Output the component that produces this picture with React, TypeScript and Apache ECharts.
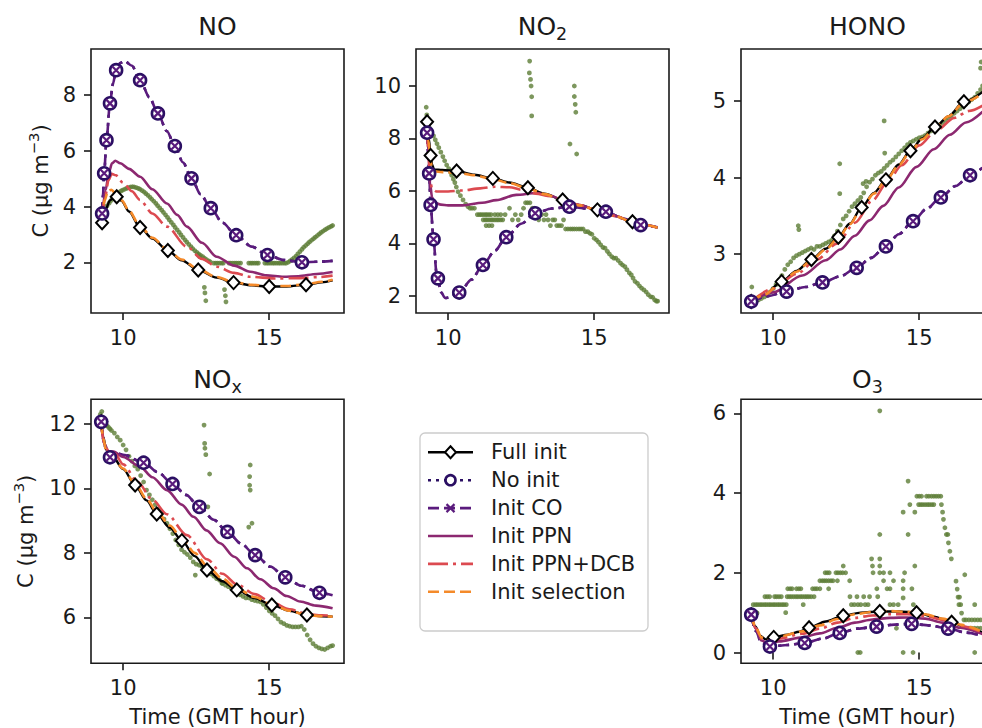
import React, { useEffect, useRef } from "react";
import * as echarts from "echarts";

// ---------------- data ----------------
const SCENARIOS = ["Full init", "No init", "Init CO", "Init PPN", "Init PPN+DCB", "Init selection"];
const X_TICKS = [10, 15];
const NO_TICKS = [2, 4, 6, 8];
const NO2_TICKS = [2, 4, 6, 8, 10];
const HONO_TICKS = [3, 4, 5];
const NOX_TICKS = [6, 8, 10, 12];
const O3_TICKS = [0, 2, 4, 6];

// [time, value, marker?]
const NO_full = [[9.28,3.42,1],[9.4,3.9,0],[9.55,4.22,0],[9.68,4.34,0],[9.78,4.35,1],[9.95,4.2,0],[10.2,3.82,0],[10.58,3.25,1],[11.0,2.85,0],[11.53,2.42,1],[12.0,2.07,0],[12.57,1.72,1],[13.2,1.45,0],[13.78,1.27,1],[14.4,1.17,0],[15.0,1.13,1],[15.6,1.13,0],[16.26,1.19,1],[16.8,1.28,0],[17.17,1.35,0]];
const NO_co = [[9.28,3.75,1],[9.31,4.4,0],[9.35,5.19,1],[9.43,6.38,1],[9.55,7.7,1],[9.65,8.4,0],[9.76,8.89,1],[9.9,9.15,0],[10.05,9.22,0],[10.3,9.05,0],[10.58,8.53,1],[10.9,7.92,0],[11.19,7.34,1],[11.5,6.7,0],[11.77,6.17,1],[12.05,5.58,0],[12.34,5.01,1],[12.65,4.44,0],[13.0,3.94,1],[13.4,3.42,0],[13.87,2.97,1],[14.4,2.56,0],[14.94,2.26,1],[15.5,2.08,0],[16.12,2.0,1],[16.7,2.02,0],[17.17,2.05,0]];
const NO_noinit = NO_co;
const NO_ppn = [[9.28,3.6,0],[9.4,4.6,0],[9.52,5.25,0],[9.62,5.55,0],[9.73,5.64,0],[9.9,5.55,0],[10.2,5.35,0],[10.58,5.07,0],[11.0,4.62,0],[11.5,4.11,0],[11.85,3.7,0],[12.18,3.28,0],[12.7,2.7,0],[13.2,2.2,0],[13.8,1.88,0],[14.35,1.66,0],[14.9,1.53,0],[15.49,1.48,0],[16.0,1.5,0],[16.63,1.58,0],[17.17,1.65,0]];
const NO_dcb = [[9.28,3.55,0],[9.38,4.3,0],[9.5,4.95,0],[9.61,5.17,0],[9.75,5.12,0],[10.0,4.85,0],[10.3,4.55,0],[10.58,4.23,0],[11.0,3.75,0],[11.5,3.28,0],[12.18,2.56,0],[12.7,2.12,0],[13.2,1.84,0],[13.8,1.62,0],[14.35,1.48,0],[15.2,1.42,0],[16.06,1.43,0],[16.7,1.47,0],[17.17,1.52,0]];
const NO_sel = [[9.28,3.5,0],[9.36,4.2,0],[9.48,4.55,0],[9.6,4.6,0],[9.75,4.45,0],[9.95,4.22,0],[10.2,3.85,0],[10.58,3.3,0],[11.0,2.88,0],[11.53,2.45,0],[12.0,2.1,0],[12.57,1.75,0],[13.2,1.47,0],[13.78,1.29,0],[14.4,1.19,0],[15.0,1.15,0],[15.6,1.15,0],[16.26,1.21,0],[16.8,1.3,0],[17.17,1.37,0]];
const NO_obs = [[9.25,3.62],[9.32,3.76],[9.38,3.9],[9.45,4.02],[9.52,4.12],[9.58,4.21],[9.65,4.3],[9.72,4.37],[9.78,4.44],[9.85,4.5],[9.92,4.55],[9.98,4.59],[10.05,4.62],[10.12,4.65],[10.18,4.68],[10.25,4.7],[10.32,4.71],[10.38,4.7],[10.45,4.68],[10.52,4.65],[10.58,4.62],[10.65,4.57],[10.72,4.52],[10.78,4.46],[10.85,4.4],[10.92,4.33],[10.98,4.26],[11.05,4.19],[11.12,4.11],[11.18,4.03],[11.25,3.95],[11.32,3.87],[11.38,3.79],[11.45,3.7],[11.52,3.61],[11.58,3.52],[11.65,3.43],[11.72,3.34],[11.78,3.25],[11.85,3.16],[11.92,3.07],[11.98,2.98],[12.05,2.89],[12.12,2.8],[12.18,2.72],[12.25,2.64],[12.32,2.56],[12.38,2.49],[12.45,2.42],[12.52,2.36],[12.58,2.3],[12.65,2.25],[12.72,2.2],[12.78,2.15],[12.85,2.1],[12.92,2.05],[12.98,2.02],[13.1,1.97],[13.17,1.97],[13.23,1.97],[13.3,1.97],[13.37,1.97],[13.43,1.97],[13.62,1.97],[13.68,1.97],[13.75,1.97],[13.82,1.97],[13.88,1.97],[13.95,1.97],[14.02,1.97],[14.3,1.97],[14.37,1.97],[14.43,1.97],[14.5,1.97],[14.57,1.97],[14.63,1.97],[14.85,1.97],[14.92,1.97],[14.98,1.97],[15.05,1.97],[15.12,1.97],[15.18,1.97],[15.25,1.97],[15.32,1.97],[15.38,1.97],[15.45,1.97],[15.52,1.97],[15.58,1.97],[15.65,2.0],[15.72,2.05],[15.78,2.1],[15.85,2.16],[15.92,2.22],[15.98,2.3],[16.05,2.38],[16.12,2.46],[16.18,2.54],[16.25,2.6],[16.32,2.67],[16.38,2.73],[16.45,2.79],[16.52,2.85],[16.58,2.9],[16.65,2.96],[16.72,3.02],[16.78,3.07],[16.85,3.12],[16.92,3.17],[16.98,3.21],[17.05,3.25],[17.12,3.29],[17.17,3.32],[12.78,1.1],[12.8,0.9],[12.83,0.62],[13.47,1.02],[13.5,0.8],[13.52,0.58],[12.55,2.28],[12.62,2.2]];

const NO2_full = [[9.28,8.64,1],[9.34,8.0,0],[9.4,7.35,1],[9.45,7.0,0],[9.52,6.82,0],[9.8,6.8,0],[10.29,6.76,1],[10.9,6.62,0],[11.53,6.48,1],[12.1,6.32,0],[12.73,6.12,1],[13.3,5.9,0],[13.92,5.66,1],[14.5,5.46,0],[15.11,5.28,1],[15.7,5.05,0],[16.31,4.83,1],[16.8,4.7,0],[17.17,4.6,0]];
const NO2_co = [[9.28,8.22,1],[9.32,7.4,0],[9.35,6.67,1],[9.4,5.47,1],[9.5,4.16,1],[9.6,2.9,0],[9.65,2.67,1],[9.75,2.15,0],[9.9,1.92,0],[10.05,1.95,0],[10.38,2.13,1],[10.8,2.62,0],[11.19,3.18,1],[11.6,3.72,0],[11.99,4.24,1],[12.5,4.75,0],[12.98,5.15,1],[13.55,5.33,0],[14.15,5.4,1],[14.8,5.33,0],[15.4,5.21,1],[16.0,4.95,0],[16.59,4.7,1],[17.17,4.62,0]];
const NO2_noinit = NO2_co;
const NO2_ppn = [[9.28,8.45,0],[9.33,7.4,0],[9.38,6.3,0],[9.45,5.75,0],[9.55,5.55,0],[9.75,5.48,0],[10.0,5.45,0],[10.5,5.45,0],[11.17,5.55,0],[11.65,5.65,0],[12.33,5.85,0],[13.01,5.92,0],[13.5,5.82,0],[13.92,5.66,0],[14.5,5.46,0],[15.11,5.27,0],[15.7,5.05,0],[16.31,4.82,0],[16.8,4.7,0],[17.17,4.6,0]];
const NO2_dcb = [[9.28,8.45,0],[9.33,7.4,0],[9.38,6.45,0],[9.45,6.08,0],[9.6,5.98,0],[10.0,5.98,0],[10.5,6.02,0],[11.1,6.1,0],[11.6,6.16,0],[12.1,6.14,0],[12.56,6.04,0],[13.0,5.9,0],[13.5,5.8,0],[13.92,5.66,0],[14.5,5.46,0],[15.11,5.27,0],[15.7,5.05,0],[16.31,4.82,0],[16.8,4.7,0],[17.17,4.6,0]];
const NO2_sel = [[9.28,8.6,0],[9.33,7.9,0],[9.39,7.2,0],[9.45,6.85,0],[9.52,6.75,0],[9.8,6.72,0],[10.29,6.7,0],[10.9,6.6,0],[11.53,6.45,0],[12.1,6.3,0],[12.73,6.1,0],[13.3,5.88,0],[13.92,5.65,0],[14.5,5.45,0],[15.11,5.27,0],[15.7,5.05,0],[16.31,4.82,0],[16.8,4.7,0],[17.17,4.6,0]];
const NO2_obs = [[9.25,9.19],[9.27,8.9],[9.3,8.6],[9.35,8.42],[9.42,8.26],[9.5,8.1],[9.56,7.95],[9.62,7.8],[9.68,7.65],[9.75,7.48],[9.82,7.31],[9.88,7.15],[9.95,6.99],[10.02,6.85],[10.08,6.72],[10.12,6.6],[10.18,6.45],[10.23,6.32],[10.28,6.15],[10.34,5.97],[10.42,5.82],[10.51,5.66],[10.6,5.5],[10.68,5.4],[10.75,5.34],[10.82,5.34],[10.9,5.34],[11.0,5.1],[11.07,5.1],[11.13,5.1],[11.2,5.1],[11.27,5.1],[11.33,5.1],[11.4,5.1],[11.47,5.1],[11.2,4.9],[11.27,4.9],[11.33,4.9],[11.4,4.9],[11.47,4.9],[11.53,4.9],[11.6,4.9],[11.67,4.9],[11.73,4.9],[11.8,4.9],[11.87,4.9],[11.3,4.68],[11.4,4.68],[11.5,4.68],[11.6,5.1],[11.7,5.1],[11.8,5.1],[11.95,5.1],[12.1,5.34],[12.2,4.9],[12.3,5.1],[12.4,4.9],[12.5,5.1],[12.58,5.34],[12.65,5.55],[12.72,5.55],[12.8,5.55],[12.88,5.34],[12.95,5.34],[13.02,5.1],[13.1,4.9],[13.2,5.1],[13.28,4.9],[13.35,5.1],[13.42,4.9],[13.5,4.68],[13.58,4.9],[13.65,4.9],[13.72,4.68],[13.8,4.68],[13.88,4.68],[13.95,4.9],[14.02,4.55],[14.1,4.55],[14.18,4.55],[14.25,4.55],[14.32,4.55],[14.4,4.55],[14.48,4.55],[14.55,4.55],[14.62,4.55],[14.7,4.45],[14.78,4.45],[14.85,4.39],[14.92,4.35],[15.0,4.2],[15.08,4.13],[15.15,4.05],[15.22,3.95],[15.3,3.85],[15.37,3.82],[15.45,3.7],[15.52,3.6],[15.6,3.5],[15.67,3.44],[15.74,3.44],[15.82,3.35],[15.9,3.25],[15.97,3.18],[16.05,3.12],[16.12,3.0],[16.2,2.88],[16.27,2.8],[16.33,2.68],[16.4,2.55],[16.48,2.48],[16.55,2.38],[16.62,2.3],[16.7,2.23],[16.78,2.15],[16.85,2.05],[16.93,1.97],[17.0,1.95],[17.07,1.85],[17.13,1.8],[17.17,1.8],[12.79,10.95],[12.78,10.5],[12.82,10.25],[12.84,10.0],[12.86,9.59],[12.86,8.86],[14.32,10.0],[14.32,9.6],[14.35,9.3],[14.37,9.0],[14.17,7.79],[14.4,7.41]];

const HONO_full = [[9.25,2.38,1],[9.7,2.47,0],[10.29,2.64,1],[10.8,2.78,0],[11.31,2.93,1],[11.8,3.07,0],[12.23,3.22,1],[12.63,3.4,0],[13.03,3.61,1],[13.45,3.8,0],[13.86,3.97,1],[14.3,4.17,0],[14.7,4.35,1],[15.1,4.51,0],[15.54,4.66,1],[16.0,4.8,0],[16.53,4.99,1],[17.17,5.12,0]];
const HONO_co = [[9.25,2.38,1],[9.8,2.45,0],[10.46,2.51,1],[11.1,2.57,0],[11.69,2.63,1],[12.3,2.71,0],[12.86,2.82,1],[13.35,2.95,0],[13.86,3.1,1],[14.3,3.26,0],[14.79,3.43,1],[15.25,3.59,0],[15.74,3.74,1],[16.25,3.89,0],[16.74,4.03,1],[17.17,4.13,0]];
const HONO_noinit = HONO_co;
const HONO_ppn = [[9.25,2.38,0],[10.0,2.5,0],[11.0,2.72,0],[11.8,2.92,0],[12.3,3.06,0],[12.8,3.24,0],[13.3,3.44,0],[13.77,3.63,0],[14.3,3.87,0],[14.91,4.14,0],[15.5,4.37,0],[16.05,4.56,0],[16.6,4.72,0],[17.17,4.86,0]];
const HONO_dcb = [[9.25,2.38,0],[10.0,2.55,0],[10.8,2.74,0],[11.5,2.93,0],[12.2,3.14,0],[12.8,3.41,0],[13.4,3.7,0],[13.9,3.93,0],[14.4,4.16,0],[15.0,4.42,0],[15.6,4.62,0],[16.2,4.78,0],[16.7,4.87,0],[17.17,4.94,0]];
const HONO_sel = [[9.25,2.38,0],[9.7,2.47,0],[10.29,2.63,0],[10.8,2.77,0],[11.31,2.92,0],[11.8,3.06,0],[12.23,3.21,0],[12.63,3.39,0],[13.03,3.6,0],[13.45,3.79,0],[13.86,3.96,0],[14.3,4.16,0],[14.7,4.34,0],[15.1,4.5,0],[15.54,4.65,0],[16.0,4.8,0],[16.53,4.98,0],[17.17,5.1,0]];
const HONO_obs = [[9.27,2.57],[9.3,2.4],[9.4,2.38],[9.5,2.4],[9.6,2.42],[9.7,2.44],[9.8,2.46],[9.9,2.5],[10.0,2.55],[10.1,2.6],[10.2,2.66],[10.3,2.72],[10.4,2.8],[10.5,2.86],[10.6,2.9],[10.7,2.95],[10.8,2.98],[10.9,3.0],[11.0,3.02],[11.1,3.04],[11.2,3.06],[11.3,3.08],[11.4,3.06],[11.5,3.1],[11.6,3.1],[11.7,3.12],[11.8,3.14],[11.9,3.16],[12.0,3.18],[12.1,3.24],[12.2,3.3],[12.3,3.38],[12.4,3.46],[12.5,3.5],[12.6,3.56],[12.7,3.62],[12.8,3.66],[12.9,3.7],[13.0,3.74],[13.1,3.8],[13.2,3.88],[13.3,3.94],[13.4,3.98],[13.5,4.03],[13.6,4.06],[13.7,4.08],[13.8,4.12],[13.9,4.16],[14.0,4.2],[14.1,4.23],[14.2,4.27],[14.3,4.31],[14.4,4.35],[14.5,4.39],[14.6,4.43],[14.7,4.46],[14.8,4.48],[14.9,4.5],[15.0,4.52],[15.1,4.53],[15.2,4.55],[15.3,4.58],[15.4,4.61],[15.5,4.63],[15.6,4.65],[15.7,4.69],[15.8,4.72],[15.9,4.75],[16.0,4.78],[16.1,4.81],[16.2,4.84],[16.3,4.87],[16.4,4.9],[16.5,4.93],[16.6,4.96],[16.7,4.99],[16.8,5.02],[16.9,5.05],[17.0,5.1],[17.1,5.15],[17.17,5.2],[10.86,3.37],[10.88,3.32],[12.28,4.18],[12.28,3.79],[13.08,3.92],[13.18,3.95],[13.8,4.74],[13.82,4.32],[17.12,5.51],[17.1,5.43]];

const NOX_full = [[9.25,12.07,1],[9.32,11.6,0],[9.42,11.2,0],[9.6,11.05,0],[10.0,10.6,0],[10.41,10.11,1],[10.8,9.63,0],[11.15,9.21,1],[11.6,8.78,0],[12.01,8.38,1],[12.45,7.9,0],[12.87,7.47,1],[13.4,7.12,0],[13.89,6.85,1],[14.5,6.6,0],[15.09,6.38,1],[15.7,6.2,0],[16.29,6.07,1],[16.8,6.03,0],[17.17,6.02,0]];
const NOX_co = [[9.25,12.07,1],[9.35,11.4,0],[9.45,11.05,0],[9.55,10.97,1],[9.7,11.1,0],[10.0,11.05,0],[10.7,10.8,1],[11.2,10.5,0],[11.69,10.14,1],[12.15,9.8,0],[12.61,9.43,1],[13.1,9.03,0],[13.57,8.65,1],[14.05,8.28,0],[14.52,7.93,1],[15.05,7.57,0],[15.55,7.24,1],[16.1,6.98,0],[16.72,6.76,1],[17.17,6.68,0]];
const NOX_noinit = NOX_co;
const NOX_ppn = [[9.25,12.0,0],[9.35,11.4,0],[9.5,11.15,0],[9.67,11.15,0],[10.0,10.98,0],[10.58,10.68,0],[11.0,10.35,0],[11.5,9.95,0],[12.0,9.5,0],[12.41,9.12,0],[12.85,8.7,0],[13.32,8.3,0],[13.8,7.88,0],[14.24,7.52,0],[14.7,7.18,0],[15.15,6.9,0],[15.6,6.66,0],[16.06,6.49,0],[16.6,6.36,0],[17.17,6.28,0]];
const NOX_dcb = [[9.25,12.0,0],[9.35,11.4,0],[9.5,11.15,0],[9.7,11.1,0],[10.0,10.75,0],[10.5,10.2,0],[11.0,9.65,0],[11.5,9.2,0],[12.18,8.55,0],[12.87,7.8,0],[13.4,7.35,0],[13.9,7.02,0],[14.5,6.72,0],[15.09,6.46,0],[15.7,6.25,0],[16.3,6.1,0],[16.8,6.06,0],[17.17,6.05,0]];
const NOX_sel = [[9.25,12.05,0],[9.32,11.55,0],[9.42,11.18,0],[9.6,11.05,0],[10.0,10.62,0],[10.41,10.15,0],[10.8,9.68,0],[11.15,9.28,0],[11.6,8.85,0],[12.01,8.45,0],[12.45,8.0,0],[12.87,7.6,0],[13.4,7.2,0],[13.89,6.9,0],[14.5,6.63,0],[15.09,6.4,0],[15.7,6.2,0],[16.29,6.07,0],[16.8,6.03,0],[17.17,6.02,0]];
const NOX_obs = [[9.22,12.3],[9.27,12.39],[9.3,12.2],[9.35,12.1],[9.4,12.0],[9.45,11.95],[9.5,11.9],[9.55,11.85],[9.6,11.8],[9.7,11.72],[9.8,11.6],[9.9,11.5],[10.0,11.35],[10.1,11.2],[10.2,11.0],[10.3,10.85],[10.4,10.7],[10.5,10.6],[10.6,10.4],[10.7,10.2],[10.8,9.95],[10.9,9.8],[11.0,9.65],[11.1,9.5],[11.2,9.35],[11.3,9.2],[11.4,9.05],[11.5,8.92],[11.6,8.75],[11.7,8.6],[11.8,8.4],[11.9,8.25],[12.0,8.1],[12.1,8.02],[12.2,7.95],[12.3,7.85],[12.4,7.72],[12.5,7.65],[12.6,7.62],[12.7,7.58],[12.8,7.55],[12.9,7.45],[13.0,7.35],[13.1,7.28],[13.2,7.2],[13.3,7.15],[13.4,7.05],[13.5,7.0],[13.6,6.95],[13.7,6.9],[13.8,6.82],[13.9,6.75],[14.0,6.7],[14.1,6.65],[14.2,6.6],[14.3,6.6],[14.4,6.55],[14.5,6.52],[14.6,6.5],[14.7,6.48],[14.8,6.4],[14.9,6.3],[15.0,6.2],[15.1,6.12],[15.2,6.05],[15.3,5.95],[15.4,5.85],[15.5,5.8],[15.6,5.75],[15.7,5.72],[15.8,5.7],[15.9,5.7],[16.0,5.7],[16.1,5.72],[16.2,5.62],[16.3,5.45],[16.4,5.3],[16.5,5.18],[16.6,5.1],[16.7,5.05],[16.8,5.02],[16.9,5.0],[17.0,5.05],[17.1,5.1],[17.17,5.12],[12.77,11.97],[12.79,11.4],[12.8,11.25],[12.83,11.05],[12.96,10.45],[12.9,9.43],[14.35,10.73],[14.33,10.37],[14.33,10.1],[14.35,9.95],[14.41,8.92],[14.3,8.8],[12.47,7.31],[13.38,7.06]];

const O3_full = [[9.25,0.95,1],[9.4,0.65,0],[9.55,0.42,0],[9.75,0.33,0],[10.02,0.38,1],[10.5,0.45,0],[10.9,0.52,0],[11.23,0.62,1],[11.8,0.78,0],[12.4,0.92,1],[13.0,1.0,0],[13.65,1.03,1],[14.3,1.03,0],[14.91,1.0,1],[15.5,0.9,0],[16.11,0.76,1],[16.7,0.6,0],[17.17,0.5,0]];
const O3_co = [[9.25,0.95,1],[9.4,0.55,0],[9.6,0.25,0],[9.89,0.15,1],[10.5,0.19,0],[11.08,0.24,1],[11.7,0.35,0],[12.28,0.49,1],[12.9,0.6,0],[13.54,0.65,1],[14.15,0.7,0],[14.74,0.72,1],[15.35,0.68,0],[15.99,0.6,1],[16.6,0.5,0],[17.17,0.42,0]];
const O3_noinit = O3_co;
const O3_ppn = [[9.25,0.95,0],[9.4,0.6,0],[9.6,0.3,0],[9.8,0.25,0],[10.2,0.28,0],[11.0,0.38,0],[11.6,0.48,0],[12.2,0.62,0],[12.8,0.75,0],[13.4,0.83,0],[14.0,0.87,0],[14.6,0.88,0],[15.2,0.85,0],[15.8,0.75,0],[16.4,0.62,0],[17.17,0.46,0]];
const O3_dcb = [[9.25,0.95,0],[9.4,0.62,0],[9.6,0.35,0],[9.8,0.3,0],[10.2,0.35,0],[11.0,0.47,0],[11.6,0.6,0],[12.2,0.75,0],[12.8,0.87,0],[13.4,0.93,0],[14.0,0.96,0],[14.6,0.96,0],[15.2,0.92,0],[15.8,0.82,0],[16.4,0.67,0],[17.17,0.5,0]];
const O3_sel = [[9.25,0.95,0],[9.4,0.64,0],[9.6,0.38,0],[9.8,0.33,0],[10.2,0.4,0],[11.0,0.53,0],[11.6,0.68,0],[12.2,0.84,0],[12.8,0.96,0],[13.4,1.02,0],[14.0,1.04,0],[14.6,1.02,0],[15.2,0.96,0],[15.8,0.85,0],[16.4,0.7,0],[17.17,0.52,0]];
const O3_obs = [[9.32,1.2],[9.4,1.2],[9.47,1.2],[9.55,1.2],[9.62,1.2],[9.7,1.2],[9.77,1.2],[9.85,1.2],[9.92,1.2],[10.0,1.2],[10.07,1.2],[10.15,1.2],[10.22,1.2],[10.3,1.2],[10.37,1.2],[10.45,1.2],[9.43,1.0],[10.43,1.0],[9.72,1.4],[9.8,1.4],[9.88,1.4],[10.05,1.4],[10.12,1.4],[10.2,1.4],[10.28,1.4],[10.5,1.6],[10.58,1.6],[10.65,1.6],[10.8,1.6],[10.88,1.6],[10.95,1.6],[10.48,1.4],[10.55,1.4],[10.62,1.4],[10.7,1.4],[10.78,1.4],[10.85,1.4],[10.93,1.4],[11.0,1.4],[11.08,1.4],[11.15,1.4],[11.22,1.4],[11.3,1.4],[11.4,1.4],[11.03,1.2],[11.35,1.6],[11.43,1.6],[11.5,1.6],[11.6,1.6],[11.9,1.6],[11.6,1.8],[11.68,1.8],[11.75,1.8],[11.82,1.8],[11.9,1.8],[11.98,1.8],[12.05,1.8],[12.2,1.8],[12.62,1.8],[11.78,2.0],[11.85,2.0],[11.92,2.0],[12.15,2.0],[12.22,2.0],[12.3,2.0],[12.38,2.0],[12.48,2.0],[12.4,2.17],[12.63,1.4],[12.87,1.4],[13.1,1.4],[13.3,1.4],[13.58,1.4],[12.68,1.2],[12.78,1.2],[12.9,1.2],[13.0,1.2],[13.15,1.2],[13.25,1.2],[12.9,0],[12.98,0],[13.37,2.35],[13.65,2.35],[13.4,2.17],[13.65,2.17],[13.42,2.0],[13.65,2.0],[13.78,2.0],[14.0,2.0],[13.78,1.8],[14.12,1.8],[13.55,1.6],[13.9,1.6],[14.0,1.6],[13.65,6.06],[13.65,2.96],[14.0,1.2],[14.12,1.2],[14.28,1.2],[14.22,0.61],[14.45,1.8],[14.5,2.0],[14.45,1.6],[14.45,3.52],[14.45,1.37],[14.62,4.3],[14.62,2.96],[14.68,3.71],[14.85,3.52],[14.45,0],[14.79,0],[14.75,1.6],[14.8,1.2],[14.85,2.17],[14.92,3.92],[15.0,3.92],[15.08,3.92],[15.25,3.92],[15.33,3.92],[15.42,3.92],[15.5,3.92],[15.58,3.92],[15.66,3.92],[15.74,3.92],[14.98,3.71],[15.05,3.71],[15.12,3.71],[15.2,3.71],[15.28,3.71],[15.35,3.71],[15.43,3.71],[15.5,3.71],[15.76,3.71],[15.8,3.52],[15.83,3.34],[15.88,3.13],[15.93,2.96],[15.98,2.96],[16.0,2.75],[16.05,2.54],[16.1,2.35],[16.26,1.79],[16.3,1.59],[16.33,1.39],[16.38,1.39],[16.36,1.2],[16.42,1.2],[16.45,0.99],[16.56,1.95],[16.53,0.82],[16.6,0.82],[16.7,0.82],[16.8,0.82],[16.9,0.82],[17.0,0.82],[17.1,0.82],[16.9,1.2],[16.9,0],[16.7,0.61],[16.8,0.61],[16.9,0.61],[17.0,0.61],[17.1,0.61],[9.45,0.99]];

// ---------------- styling ----------------
const FONT = '"DejaVu Sans", "Liberation Sans", sans-serif';
const INK = "#1a1a1a";
const OBS_COLOR = "#5d7d36";
const COLORS = ["#000000", "#2b0f63", "#5a1b7d", "#8c2870", "#dc4a50", "#f48a2a"];
const X_SYMBOL = "path://M0,0L10,10M10,0L0,10";
const STYLES = [
  { dash: "solid", width: 2.4, symbol: "diamond", size: [12, 13], fill: "#ffffff", bw: 2 },
  { dash: [3, 5], width: 2.6, symbol: "circle", size: 12, fill: "#ffffff", bw: 2.6 },
  { dash: [11, 5], width: 2.6, symbol: X_SYMBOL, size: 8, fill: "rgba(0,0,0,0)", bw: 2.2 },
  { dash: "solid", width: 2.6, symbol: "none", size: 0, fill: "#ffffff", bw: 0 },
  { dash: [20, 5, 3, 5], width: 2.6, symbol: "none", size: 0, fill: "#ffffff", bw: 0 },
  { dash: [11, 5], width: 2.6, symbol: "none", size: 0, fill: "#ffffff", bw: 0 },
];

const CHART_W = 1010;
const PW = 253;
const PH = 264;
const X_MIN = 8.9;
const X_MAX = 17.56;

const PANELS = [
  { main: "NO", sub: "", left: 91, top: 49, titleY: 26.5, ymin: 0.18, ymax: 9.65, ticks: NO_TICKS, obs: NO_obs, curves: [NO_full, NO_noinit, NO_co, NO_ppn, NO_dcb, NO_sel], ylabelX: 41, xlabel: false },
  { main: "NO", sub: "2", left: 416, top: 49, titleY: 26.5, ymin: 1.35, ymax: 11.41, ticks: NO2_TICKS, obs: NO2_obs, curves: [NO2_full, NO2_noinit, NO2_co, NO2_ppn, NO2_dcb, NO2_sel], ylabelX: 0, xlabel: false },
  { main: "HONO", sub: "", left: 741, top: 49, titleY: 26.5, ymin: 2.23, ymax: 5.68, ticks: HONO_TICKS, obs: HONO_obs, curves: [HONO_full, HONO_noinit, HONO_co, HONO_ppn, HONO_dcb, HONO_sel], ylabelX: 0, xlabel: false },
  { main: "NO", sub: "x", left: 91, top: 399.3, titleY: 379, ymin: 4.57, ymax: 12.77, ticks: NOX_TICKS, obs: NOX_obs, curves: [NOX_full, NOX_noinit, NOX_co, NOX_ppn, NOX_dcb, NOX_sel], ylabelX: 26, xlabel: true },
  { main: "O", sub: "3", left: 741, top: 399.3, titleY: 379, ymin: -0.27, ymax: 6.35, ticks: O3_TICKS, obs: O3_obs, curves: [O3_full, O3_noinit, O3_co, O3_ppn, O3_dcb, O3_sel], ylabelX: 0, xlabel: true },
];

let measureCtx: CanvasRenderingContext2D | null = null;
function measure(text: string, size: number): number {
  if (!measureCtx) measureCtx = document.createElement("canvas").getContext("2d");
  if (!measureCtx) return text.length * size * 0.6;
  measureCtx.font = `${size}px ${FONT}`;
  return measureCtx.measureText(text).width;
}

function txt(x: number, y: number, text: string, size: number, align = "left") {
  return {
    type: "text",
    x,
    y,
    silent: true,
    style: {
      text,
      font: `${size}px ${FONT}`,
      fill: INK,
      align,
      textAlign: align,
      verticalAlign: "middle",
      textVerticalAlign: "middle",
    },
  };
}

function buildOption() {
  const grid: any[] = [];
  const xAxis: any[] = [];
  const yAxis: any[] = [];
  const series: any[] = [];
  const graphic: any[] = [];

  PANELS.forEach((p, i) => {
    grid.push({ left: p.left, top: p.top, width: PW, height: PH, show: true, borderColor: INK, borderWidth: 1.6, backgroundColor: "transparent", containLabel: false });
    xAxis.push({
      type: "value", gridIndex: i, min: X_MIN, max: X_MAX,
      axisLine: { show: false },
      splitLine: { show: false },
      axisTick: { show: true, customValues: X_TICKS, length: 7, lineStyle: { color: INK, width: 1.6 } },
      axisLabel: { show: true, customValues: X_TICKS, margin: 14, fontSize: 21, fontFamily: FONT, color: INK },
    });
    yAxis.push({
      type: "value", gridIndex: i, min: p.ymin, max: p.ymax,
      axisLine: { show: false },
      splitLine: { show: false },
      axisTick: { show: true, customValues: p.ticks, length: 7, lineStyle: { color: INK, width: 1.6 } },
      axisLabel: { show: true, customValues: p.ticks, margin: 15, fontSize: 21, fontFamily: FONT, color: INK },
    });
    series.push({
      type: "scatter", name: "Observations", xAxisIndex: i, yAxisIndex: i,
      data: p.obs, symbol: "circle", symbolSize: 4.8,
      itemStyle: { color: OBS_COLOR }, silent: true, z: 2,
    });
    p.curves.forEach((arr, s) => {
      const st = STYLES[s];
      series.push({
        type: "line", name: SCENARIOS[s], xAxisIndex: i, yAxisIndex: i,
        data: arr.map((d) => (d[2] ? { value: [d[0], d[1]] } : { value: [d[0], d[1]], symbol: "none" })),
        symbol: st.symbol, symbolSize: st.size, showSymbol: true, showAllSymbol: true,
        smooth: 0.3, smoothMonotone: "x",
        lineStyle: { color: COLORS[s], width: st.width, type: st.dash },
        itemStyle: { color: st.fill, borderColor: COLORS[s], borderWidth: st.bw },
        emphasis: { disabled: true }, silent: true, z: 3,
      });
    });

    // title with optional subscript
    const cx = p.left + PW / 2;
    const mw = measure(p.main, 25);
    const sw = p.sub ? measure(p.sub, 17.5) : 0;
    const x0 = cx - (mw + sw) / 2;
    graphic.push(txt(x0, p.titleY, p.main, 25));
    if (p.sub) graphic.push(txt(x0 + mw, p.titleY + 7.5, p.sub, 17.5));

    if (p.ylabelX) {
      const a = "C (µg m";
      const b = "−3";
      const c = ")";
      const wa = measure(a, 21), wb = measure(b, 14.7), wc = measure(c, 21);
      const tot = wa + wb + wc;
      const lx = -tot / 2;
      graphic.push({
        type: "group", x: p.ylabelX, y: p.top + PH / 2, rotation: Math.PI / 2,
        children: [txt(lx, 0, a, 21), txt(lx + wa, -7.3, b, 14.7), txt(lx + wa + wb, 0, c, 21)],
      });
    }
    if (p.xlabel) {
      graphic.push(txt(cx, 717, "Time (GMT hour)", 21, "center"));
    }
  });

  // legend
  const LX = 420, LY = 433;
  const legendChildren: any[] = [
    { type: "rect", shape: { x: LX, y: LY, width: 228, height: 198, r: 5 }, style: { fill: "rgba(255,255,255,0.85)", stroke: "#cccccc", lineWidth: 1.3 } },
  ];
  SCENARIOS.forEach((name, s) => {
    const y = 452.3 + s * 27.9;
    const st = STYLES[s];
    const col = COLORS[s];
    legendChildren.push({ type: "line", shape: { x1: 428, y1: y, x2: 473, y2: y }, style: { stroke: col, lineWidth: st.width, lineDash: Array.isArray(st.dash) ? st.dash : null } });
    const mx = 450.5;
    if (s === 0) legendChildren.push({ type: "polygon", shape: { points: [[mx, y - 6], [mx + 5.5, y], [mx, y + 6], [mx - 5.5, y]] }, style: { fill: "#ffffff", stroke: col, lineWidth: 2 } });
    if (s === 1) legendChildren.push({ type: "circle", shape: { cx: mx, cy: y, r: 5 }, style: { fill: "#ffffff", stroke: col, lineWidth: 2.6 } });
    if (s === 2) {
      legendChildren.push({ type: "line", shape: { x1: mx - 4, y1: y - 4, x2: mx + 4, y2: y + 4 }, style: { stroke: col, lineWidth: 2.2 } });
      legendChildren.push({ type: "line", shape: { x1: mx - 4, y1: y + 4, x2: mx + 4, y2: y - 4 }, style: { stroke: col, lineWidth: 2.2 } });
    }
    legendChildren.push(txt(491, y, name, 21));
  });
  graphic.push({ type: "group", children: legendChildren });

  return { animation: false, grid, xAxis, yAxis, series, graphic };
}

export default function App() {
  const ref = useRef<HTMLDivElement>(null);
  useEffect(() => {
    document.body.style.margin = "0";
    if (!ref.current) return;
    const chart = echarts.init(ref.current, null, { renderer: "svg" });
    chart.setOption(buildOption() as any);
    return () => chart.dispose();
  }, []);
  return (
    <div style={{ width: 982, height: 728, position: "absolute", left: 0, top: 0, overflow: "hidden", background: "#ffffff" }}>
      <div ref={ref} style={{ width: CHART_W, height: 728 }} />
    </div>
  );
}
